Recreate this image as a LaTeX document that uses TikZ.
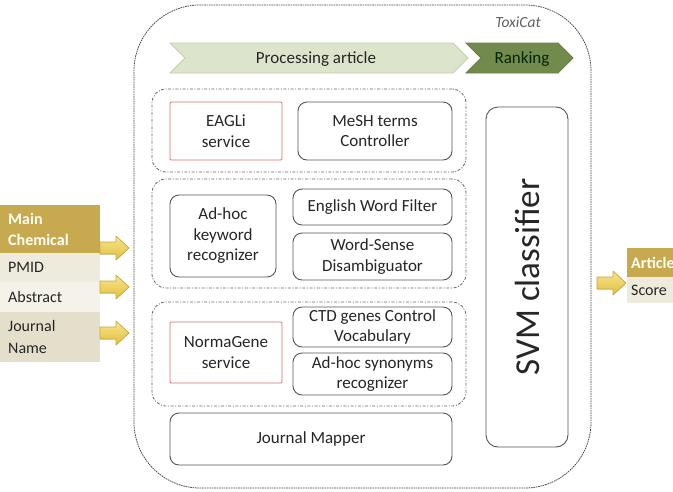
\documentclass[tikz,border=0pt]{standalone}
\usepackage{fontspec}
\setmainfont{Carlito}
\definecolor{txt}{HTML}{262626}
\definecolor{boxline}{HTML}{555555}
\definecolor{redline}{HTML}{D27272}
\definecolor{procfill}{HTML}{DDE4CC}
\definecolor{procline}{HTML}{C6CFA8}
\definecolor{rankfill}{HTML}{728A4B}
\definecolor{rankline}{HTML}{6A7F44}
\definecolor{gold}{HTML}{C7A94F}
\definecolor{rowa}{HTML}{EEEADC}
\definecolor{rowb}{HTML}{F5F2E9}
\definecolor{rowc}{HTML}{E4DFCB}
\definecolor{arrtop}{HTML}{F7E58E}
\definecolor{arrbot}{HTML}{E3BE3C}
\definecolor{arrline}{HTML}{C9A93E}
\tikzset{
  boxtext/.style={font=\fontsize{17}{20.5}\selectfont, text=txt, align=center},
  box/.style={boxtext, draw=boxline, line width=0.9pt, rounded corners=9pt, inner sep=0pt, fill=white},
  redbox/.style={boxtext, draw=redline, line width=0.9pt, rounded corners=1pt, inner sep=0pt, fill=white},
  group/.style={draw=gray!80!black, line width=0.8pt, rounded corners=14pt, inner sep=0pt,
    dash pattern=on 3pt off 1.6pt on 1pt off 1.6pt},
  outerbox/.style={draw=gray!60!black, line width=0.8pt, rounded corners=66pt, inner sep=0pt,
    dash pattern=on 1.6pt off 0.8pt},
  cell/.style={anchor=north west, inner sep=0pt, minimum width=100pt},
  celltext/.style={anchor=west, align=left, inner xsep=8pt, font=\fontsize{16}{19}\selectfont, text=txt},
  blockarrow/.style={top color=arrtop, bottom color=arrbot, draw=arrline, line width=0.6pt, line join=round},
}
\begin{document}
\begin{tikzpicture}[x=1pt,y=-1pt]
\clip (0,0) rectangle (673,491);
\fill[white] (0,0) rectangle (673,491);

% outer frame
\node[outerbox, minimum width=457pt, minimum height=483pt] (toxicat) at (362.5,246.5) {};
\node[font=\fontsize{15.5}{18}\selectfont\itshape, text=gray!75!black] (toxlabel) at (518,22) {ToxiCat};

% chevrons
\filldraw[fill=procfill, draw=procline, line width=0.8pt]
  (170,43) -- (453,43) -- (468,58) -- (453,73) -- (170,73) -- (185,58) -- cycle;
\node[font=\fontsize{17}{20}\selectfont, text=txt] (proc) at (316,59) {Processing article};
\filldraw[fill=rankfill, draw=rankline, line width=0.8pt]
  (466,43) -- (558,43) -- (573,58) -- (558,73) -- (466,73) -- (481,58) -- cycle;
\node[font=\fontsize{17}{20}\selectfont, text=black!85!green] (rank) at (522,59) {Ranking};

% groups
\node[group, minimum width=314pt, minimum height=83pt] (g1) at (309,130.5) {};
\node[group, minimum width=314pt, minimum height=109pt] (g2) at (309,233.5) {};
\node[group, minimum width=314pt, minimum height=104pt] (g3) at (309,354) {};

% group 1
\node[redbox, minimum width=112pt, minimum height=58pt] (eagli) at (226,131) {EAGLi\\service};
\node[box, minimum width=154pt, minimum height=58pt] (mesh) at (375,131) {MeSH terms\\Controller};

% group 2
\node[box, minimum width=106pt, minimum height=82pt] (adhoc) at (223,236) {Ad-hoc\\keyword\\recognizer};
\node[box, minimum width=159pt, minimum height=36pt] (ewf) at (372.5,207) {English Word Filter};
\node[box, minimum width=159pt, minimum height=47pt] (wsd) at (372.5,256.5) {Word-Sense\\Disambiguator};

% group 3
\node[redbox, minimum width=112pt, minimum height=61pt] (normagene) at (226,352.5) {NormaGene\\service};
\node[box, minimum width=159pt, minimum height=40pt] (ctd) at (372.5,327) {CTD genes Control\\Vocabulary};
\node[box, minimum width=159pt, minimum height=42pt] (syn) at (372.5,374) {Ad-hoc synonyms\\recognizer};

% journal mapper
\node[box, minimum width=282pt, minimum height=52pt] (jm) at (311,439) {Journal Mapper};

% SVM
\node[box, minimum width=82pt, minimum height=340pt, rounded corners=12pt] (svm) at (527,277) {};
\node[font=\fontsize{35}{40}\selectfont, text=txt, rotate=90] (svmtext) at (svm.center) {SVM classifier};

% left table
\node[cell, fill=gold, minimum height=48pt] (mc) at (0,205) {};
\node[celltext, text=white!96!yellow, font=\fontsize{16}{20.5}\selectfont\bfseries] (mct) at (mc.west) {Main\\Chemical};
\node[cell, fill=rowa, minimum height=29pt] (pmid) at (0,253) {};
\node[celltext] (pmidt) at (pmid.west) {PMID};
\node[cell, fill=rowb, minimum height=30pt] (abs) at (0,282) {};
\node[celltext] (abst) at (abs.west) {Abstract};
\node[cell, fill=rowc, minimum height=50pt] (jn) at (0,312) {};
\node[celltext, font=\fontsize{16}{21.5}\selectfont] (jnt) at (jn.west) {Journal\\Name};

% input arrows
\foreach \yc in {248,287,333}{
  \filldraw[blockarrow] (100,\yc-6) -- (116,\yc-6) -- (116,\yc-12) -- (129,\yc) -- (116,\yc+12) -- (116,\yc+6) -- (100,\yc+6) -- cycle;
}

% output
\filldraw[blockarrow] (597,277) -- (613,277) -- (613,271) -- (626,283) -- (613,295) -- (613,289) -- (597,289) -- cycle;
\node[cell, fill=gold, minimum width=70pt, minimum height=29pt] (art) at (627,248) {};
\node[celltext, inner xsep=4pt, text=white!96!yellow, font=\fontsize{16}{19}\selectfont\bfseries] (artt) at (art.west) {Article};
\node[cell, fill=rowa, minimum width=70pt, minimum height=26pt] (score) at (627,277) {};
\node[celltext, inner xsep=4pt] (scoret) at (score.west) {Score};
\end{tikzpicture}
\end{document}
